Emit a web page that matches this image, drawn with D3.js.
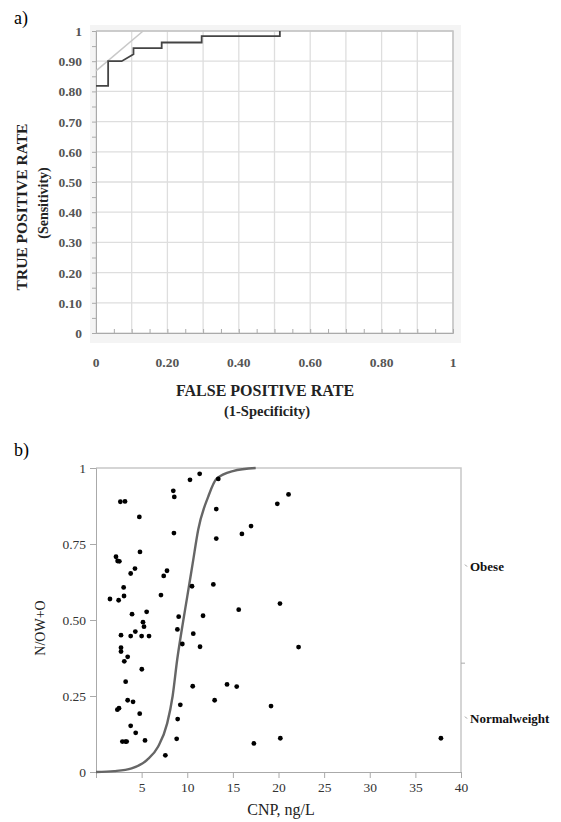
<!DOCTYPE html>
<html>
<head>
<meta charset="utf-8">
<script src="https://cdn.jsdelivr.net/npm/d3@7"></script>
<style>
  body { margin: 0; background: #fff; }
  svg { display: block; }
</style>
</head>
<body>
<svg width="561" height="822"></svg>
<script>
// panel a: ROC curve (step points)
const rocFpr = [0, 0.034, 0.034, 0.072, 0.105, 0.105, 0.184, 0.184, 0.296, 0.296, 0.515, 0.515];
const rocTpr = [0.818, 0.818, 0.90, 0.90, 0.923, 0.943, 0.943, 0.962, 0.962, 0.983, 0.983, 1.0];
const tangentFpr = [0, 0.132];
const tangentTpr = [0.868, 1.0];
const rocYTicks = [0, 0.1, 0.2, 0.3, 0.4, 0.5, 0.6, 0.7, 0.8, 0.9, 1];
const rocYLabels = ["0", "0.10", "0.20", "0.30", "0.40", "0.50", "0.60", "0.70", "0.80", "0.90", "1"];
const rocXTicks = [0, 0.2, 0.4, 0.6, 0.8, 1];
const rocXLabels = ["0", "0.20", "0.40", "0.60", "0.80", "1"];

// panel b: CNP vs fitted probability
const cnp = [1.53, 2.19, 2.37, 2.56, 2.67, 3.18, 2.48, 3.03, 3.07, 3.8, 4.27, 4.75, 4.82, 3.95, 5.55, 5.15, 5.26, 4.31, 3.8, 2.74,
  5.0, 5.81, 2.74, 2.74, 3.47, 7.12, 7.42, 7.78, 8.47, 8.58, 8.54, 9.06, 8.92, 9.46, 10.3, 11.36, 10.52, 10.66, 11.73, 11.4,
  13.4, 13.18, 13.18, 12.86, 15.64, 15.99, 16.99, 19.87, 21.1, 20.16, 22.2, 3.1, 5.02, 3.25, 2.34, 2.52, 3.47, 4.06, 4.79, 3.8,
  4.35, 2.89, 3.22, 3.36, 5.37, 7.6, 8.84, 8.95, 9.24, 10.6, 14.36, 15.42, 13.0, 19.18, 20.2, 17.3, 37.8];
const prob = [0.569, 0.708, 0.694, 0.693, 0.889, 0.890, 0.565, 0.607, 0.579, 0.653, 0.669, 0.839, 0.724, 0.519, 0.527, 0.493, 0.478, 0.462, 0.447, 0.45,
  0.447, 0.447, 0.409, 0.396, 0.379, 0.582, 0.645, 0.662, 0.925, 0.905, 0.786, 0.511, 0.469, 0.421, 0.961, 0.981, 0.611, 0.455, 0.514, 0.412,
  0.964, 0.865, 0.768, 0.617, 0.534, 0.783, 0.809, 0.882, 0.913, 0.554, 0.411, 0.364, 0.338, 0.297, 0.205, 0.21, 0.236, 0.231, 0.192, 0.152,
  0.129, 0.1, 0.1, 0.1, 0.104, 0.055, 0.109, 0.174, 0.221, 0.282, 0.288, 0.281, 0.236, 0.217, 0.111, 0.094, 0.111];
// logistic fit line
const fitX = [0, 2, 3.9, 5.6, 6.8, 7.8, 8.4, 8.9, 9.4, 10.0, 10.6, 11.2, 12.3, 13.2, 15, 17.5];
const fitY = [0, 0.003, 0.012, 0.04, 0.083, 0.16, 0.25, 0.37, 0.468, 0.577, 0.687, 0.797, 0.906, 0.964, 0.99, 1];
const probTicks = [0, 0.25, 0.5, 0.75, 1];
const probLabels = ["0", "0.25", "0.50", "0.75", "1"];
const cnpTicks = [5, 10, 15, 20, 25, 30, 35, 40];
const groups = ["Normalweight", "Obese"];
const groupShare = 0.358; // share of normal weight (divider on right axis)

const svg = d3.select("svg");
const serif = "'Liberation Serif', 'DejaVu Serif', serif";

// ---------- panel a ----------
const xa = d3.scaleLinear().domain([0, 1]).range([96, 453]);
const ya = d3.scaleLinear().domain([0, 1]).range([333, 31]);

svg.append("text").attr("x", 14).attr("y", 24)
  .attr("font-family", serif).attr("font-size", 18).text("a)");

// light frame behind plot
svg.append("rect").attr("x", 90).attr("y", 25).attr("width", 371).attr("height", 318)
  .attr("fill", "#f4f4f4");
svg.append("rect").attr("x", xa(0)).attr("y", ya(1)).attr("width", xa(1) - xa(0)).attr("height", ya(0) - ya(1))
  .attr("fill", "#fff");

const ga = svg.append("g");
ga.selectAll("line.vg").data(d3.range(0, 11).map(d => d / 10)).enter().append("line")
  .attr("x1", d => xa(d)).attr("x2", d => xa(d)).attr("y1", ya(0)).attr("y2", ya(1))
  .attr("stroke", "#dedede").attr("stroke-width", 1.3);
ga.selectAll("line.hg").data(rocYTicks).enter().append("line")
  .attr("x1", xa(0)).attr("x2", xa(1)).attr("y1", d => ya(d)).attr("y2", d => ya(d))
  .attr("stroke", "#dedede").attr("stroke-width", 1.3);

// border top/right
svg.append("path")
  .attr("d", `M${xa(0)},${ya(1)}H${xa(1)}V${ya(0)}`)
  .attr("fill", "none").attr("stroke", "#c4c4c4").attr("stroke-width", 1.5);

// axes
const axYa = d3.axisLeft(ya).tickValues(d3.range(0, 21).map(d => d / 20)).tickSize(4).tickFormat("");
svg.append("g").attr("transform", `translate(${xa(0)},0)`).call(axYa)
  .call(g => g.selectAll("line, path").attr("stroke", "#aaa"));
const axXa = d3.axisTop(xa).tickValues(d3.range(0, 21).map(d => d / 20)).tickSize(4).tickFormat("");
svg.append("g").attr("transform", `translate(0,${ya(0)})`).call(axXa)
  .call(g => g.selectAll("line, path").attr("stroke", "#aaa"));

svg.append("g").selectAll("text").data(rocYTicks).enter().append("text")
  .attr("x", 82).attr("y", d => ya(d) + 5).attr("text-anchor", "end")
  .attr("font-family", serif).attr("font-weight", "bold").attr("font-size", 13.5).attr("fill", "#555")
  .text((d, i) => rocYLabels[i]);
svg.append("g").selectAll("text").data(rocXTicks).enter().append("text")
  .attr("x", d => xa(d)).attr("y", 367).attr("text-anchor", "middle")
  .attr("font-family", serif).attr("font-weight", "bold").attr("font-size", 13.5).attr("fill", "#555")
  .text((d, i) => rocXLabels[i]);

// tangent line and ROC steps
const lineA = d3.line().x(d => xa(d[0])).y(d => ya(d[1]));
svg.append("path").datum(d3.zip(tangentFpr, tangentTpr)).attr("d", lineA)
  .attr("fill", "none").attr("stroke", "#c8c8c8").attr("stroke-width", 1.5);
svg.append("path").datum(d3.zip(rocFpr, rocTpr)).attr("d", lineA)
  .attr("fill", "none").attr("stroke", "#444").attr("stroke-width", 1.8);

svg.append("text").attr("transform", "translate(27,207) rotate(-90)").attr("text-anchor", "middle")
  .attr("font-family", serif).attr("font-weight", "bold").attr("font-size", 15.5).attr("fill", "#222")
  .text("TRUE POSITIVE RATE");
svg.append("text").attr("transform", "translate(48,203) rotate(-90)").attr("text-anchor", "middle")
  .attr("font-family", serif).attr("font-weight", "bold").attr("font-size", 14).attr("fill", "#222")
  .text("(Sensitivity)");
svg.append("text").attr("x", 265).attr("y", 396).attr("text-anchor", "middle")
  .attr("font-family", serif).attr("font-weight", "bold").attr("font-size", 16).attr("fill", "#222")
  .text("FALSE POSITIVE RATE");
svg.append("text").attr("x", 267).attr("y", 416).attr("text-anchor", "middle")
  .attr("font-family", serif).attr("font-weight", "bold").attr("font-size", 14.5).attr("fill", "#222")
  .text("(1-Specificity)");

// ---------- panel b ----------
const xb = d3.scaleLinear().domain([0, 40]).range([96, 461]);
const yb = d3.scaleLinear().domain([0, 1]).range([772, 468]);

svg.append("text").attr("x", 14).attr("y", 456)
  .attr("font-family", serif).attr("font-size", 18).text("b)");

svg.append("path")
  .attr("d", `M${xb(0)},${yb(1)}H${xb(40)}V${yb(0)}`)
  .attr("fill", "none").attr("stroke", "#c8c8c8").attr("stroke-width", 1.5);

const axYb = d3.axisLeft(yb).tickValues(probTicks).tickSize(6).tickFormat((d, i) => probLabels[i]);
svg.append("g").attr("transform", `translate(${xb(0)},0)`).call(axYb)
  .call(g => g.selectAll("line, path").attr("stroke", "#aaa"))
  .call(g => g.selectAll("text").attr("font-family", serif).attr("font-size", 13.5).attr("fill", "#333").attr("x", -10));
const axXb = d3.axisBottom(xb).tickValues(cnpTicks).tickSize(6).tickFormat(d3.format("d"));
svg.append("g").attr("transform", `translate(0,${yb(0)})`).call(axXb)
  .call(g => g.selectAll("line, path").attr("stroke", "#aaa"))
  .call(g => g.selectAll("text").attr("font-family", serif).attr("font-size", 13.5).attr("fill", "#333").attr("y", 10));

// right categorical axis
const divY = yb(groupShare);
svg.append("line").attr("x1", xb(40)).attr("x2", xb(40) + 4).attr("y1", divY).attr("y2", divY)
  .attr("stroke", "#aaa");
const groupMid = [(yb(0) + divY) / 2, (divY + yb(1)) / 2];
svg.append("g").selectAll("text").data(groups).enter().append("text")
  .attr("x", 470).attr("y", (d, i) => groupMid[i] + 5)
  .attr("font-family", serif).attr("font-weight", "bold").attr("font-size", 13).attr("fill", "#111")
  .text(d => d);
svg.append("g").selectAll("line").data(groupMid).enter().append("line")
  .attr("x1", 465).attr("x2", 467).attr("y1", d => d - 1).attr("y2", d => d + 1)
  .attr("stroke", "#999");

// fit curve
svg.append("path").datum(d3.zip(fitX, fitY))
  .attr("d", d3.line().x(d => xb(d[0])).y(d => yb(d[1])).curve(d3.curveMonotoneX))
  .attr("fill", "none").attr("stroke", "#666").attr("stroke-width", 2.4);

svg.append("g").selectAll("circle").data(d3.zip(cnp, prob)).enter().append("circle")
  .attr("cx", d => xb(d[0])).attr("cy", d => yb(d[1])).attr("r", 2.4).attr("fill", "#000");

svg.append("text").attr("transform", "translate(45,628) rotate(-90)").attr("text-anchor", "middle")
  .attr("font-family", serif).attr("font-size", 14).attr("fill", "#222")
  .text("N/OW+O");
svg.append("text").attr("x", 281).attr("y", 815).attr("text-anchor", "middle")
  .attr("font-family", serif).attr("font-size", 16).attr("fill", "#222")
  .text("CNP, ng/L");
</script>
</body>
</html>
